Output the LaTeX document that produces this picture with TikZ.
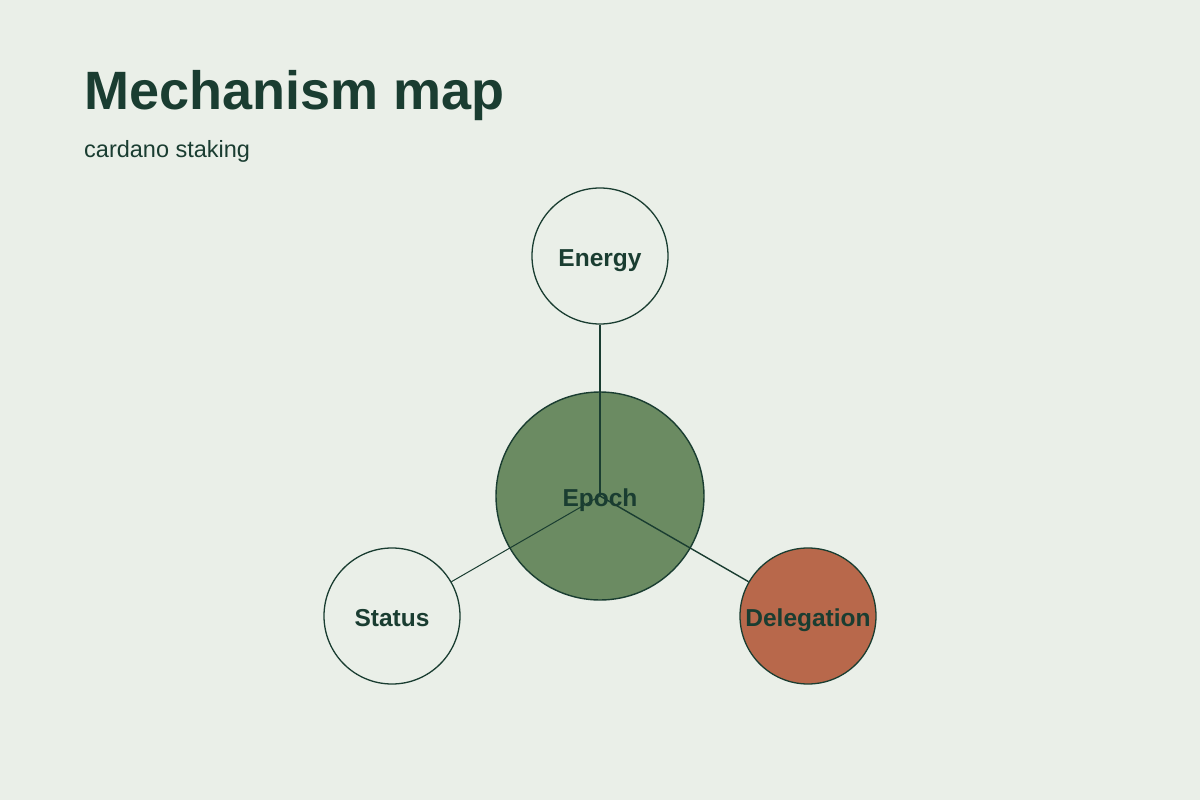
\documentclass[tikz,border=0pt]{standalone}
\usepackage{fontspec}
\setmainfont{Liberation Sans}
\definecolor{bgc}{HTML}{EAEFE8}
\definecolor{ink}{HTML}{1A3D31}
\definecolor{sage}{HTML}{6B8B62}
\definecolor{rust}{HTML}{B8684B}
\begin{document}
\begin{tikzpicture}[x=1pt,y=-1pt,
  bubble/.style={circle,draw=ink,line width=1.3pt,inner sep=0pt,minimum size=136pt},
  hub/.style={circle,draw=ink,line width=1.4pt,inner sep=0pt,minimum size=208pt,fill=sage},
  lbl/.style={anchor=base,inner sep=0pt,text=ink,font=\fontsize{24.5}{28}\selectfont\bfseries},
  link/.style={draw=ink}]
\fill[bgc] (0,0) rectangle (1200,800);
\useasboundingbox (0,0) rectangle (1200,800);
\node[anchor=base west,inner sep=0pt,text=ink,font=\fontsize{54}{60}\selectfont\bfseries] (title) at (84,109.5) {Mechanism map};
\node[anchor=base west,inner sep=0pt,text=ink,font=\fontsize{23.5}{28}\selectfont] (sub) at (84,157.5) {cardano staking};
\node[hub] (ep) at (600,496) {};
\node[bubble] (en) at (600,256) {};
\node[bubble] (st) at (392,616) {};
\node[bubble,fill=rust] (de) at (808,616) {};
\draw[link,line width=1.8pt] (ep.center) -- (en);
\draw[link,line width=1pt] (ep.center) -- (st);
\draw[link,line width=1.4pt] (ep.center) -- (de);
\node[lbl] (enl) at (600,266.7) {Energy};
\node[lbl] (epl) at (600,506.7) {Epoch};
\node[lbl] (stl) at (392,626.7) {Status};
\node[lbl] (del) at (808,626.7) {Delegation};
\end{tikzpicture}
\end{document}
